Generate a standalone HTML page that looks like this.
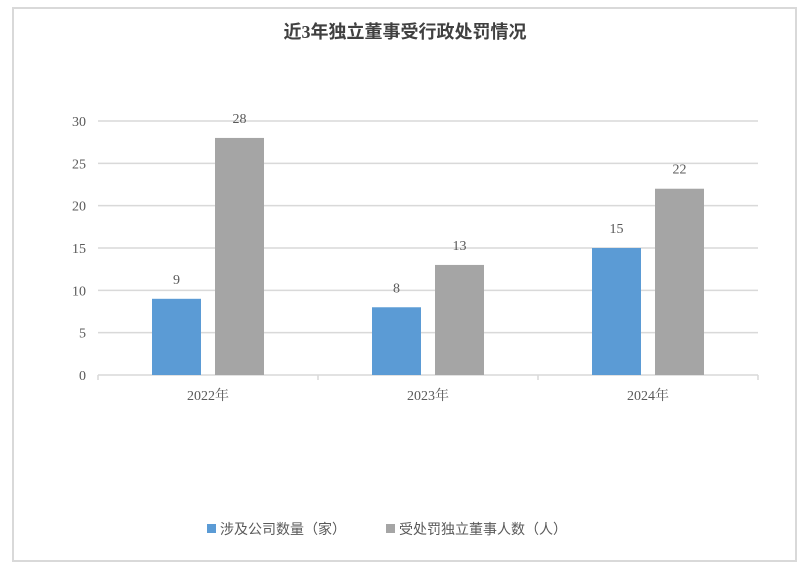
<!DOCTYPE html>
<html><head><meta charset="utf-8"><style>
body{margin:0;background:#fff;}
svg text{font-family:"Liberation Serif","Noto Serif CJK SC",serif;fill:#595959;}
</style></head><body>
<svg width="810" height="573" id="c">
<rect x="13" y="8" width="783" height="553" fill="#fff" stroke="#d9d9d9" stroke-width="2"/>
<text x="405" y="38" text-anchor="middle" font-size="18" font-weight="bold" style="fill:#404040;font-family:'Liberation Serif','Noto Sans CJK SC',sans-serif">近3年独立董事受行政处罚情况</text>
<g id="grid"></g><g id="bars"></g>
<g style="font-family:'Liberation Sans','Noto Sans CJK SC',sans-serif">
<rect x="207" y="524" width="9" height="9" fill="#5b9bd5"/>
<text x="220" y="534" font-size="14" style="font-family:'Liberation Sans','Noto Sans CJK SC',sans-serif">涉及公司数量（家）</text>
<rect x="386" y="524" width="9" height="9" fill="#a5a5a5"/>
<text x="399" y="534" font-size="14" style="font-family:'Liberation Sans','Noto Sans CJK SC',sans-serif">受处罚独立董事人数（人）</text>
</g>
</svg>
<script>
const categories=["2022年","2023年","2024年"];
const companies=[9,8,15];
const directors=[28,13,22];
const yTicks=[0,5,10,15,20,25,30];
const NS="http://www.w3.org/2000/svg";
const x0=98,x1=758,y0=375,yMax=30,yTop=121;
const bw=(x1-x0)/categories.length;
const y=v=>y0-(v/yMax)*(y0-yTop);
function mk(t,a,p){const e=document.createElementNS(NS,t);for(const k in a)e.setAttribute(k,a[k]);p.appendChild(e);return e;}
const g=document.getElementById('grid'),b=document.getElementById('bars');
yTicks.forEach(v=>{
 if(v>0){const l=mk('line',{x1:x0,x2:x1,y1:y(v),y2:y(v),stroke:'#d9d9d9','stroke-width':1.5},g);
 
 }
 const t=mk('text',{x:86,y:y(v)+5,'text-anchor':'end','font-size':14},g);t.textContent=v;
 
 
});
const ax=mk('line',{x1:x0,x2:x1,y1:y0,y2:y0,stroke:'#d9d9d9','stroke-width':1.5},g);


for(let i=0;i<=categories.length;i++){const tk=mk('line',{x1:x0+i*bw,x2:x0+i*bw,y1:y0,y2:y0+5,stroke:'#d9d9d9','stroke-width':1.5},g);
 
 }
categories.forEach((c,i)=>{
 const cx=x0+bw*(i+0.5);
 const t=mk('text',{x:cx,y:y0+25,'text-anchor':'middle','font-size':14},g);t.textContent=c;
 
 
 [[companies[i],'#5b9bd5',cx-56,'companies'],[directors[i],'#a5a5a5',cx+7,'directors']].forEach(([v,col,bx,n])=>{
  const r=mk('rect',{x:bx,y:y(v),width:49,height:y0-y(v),fill:col},b);
  
  
  const l=mk('text',{x:bx+24.5,y:y(v)-15,'text-anchor':'middle','font-size':14},b);l.textContent=v;
  
  
 });
});
</script>
</body></html>
